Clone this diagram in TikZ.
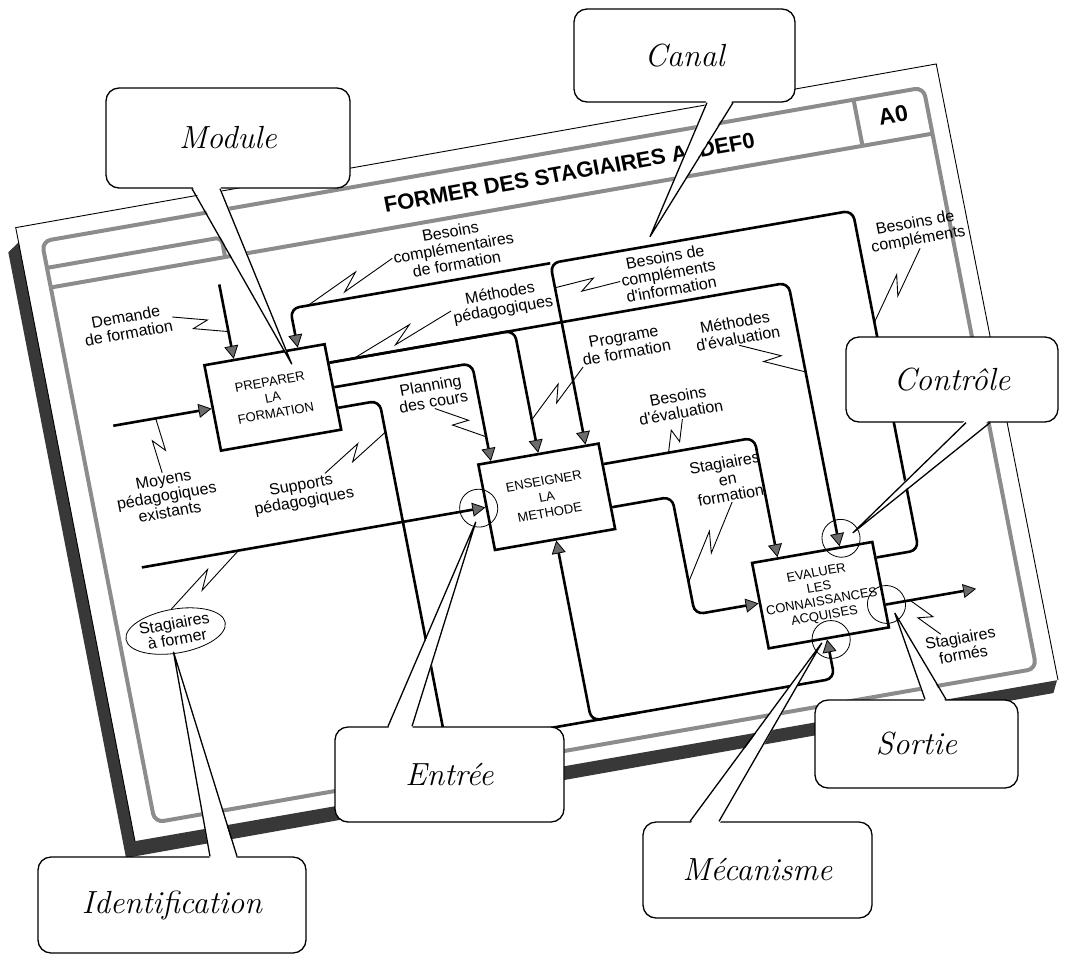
\documentclass[tikz,border=0pt]{standalone}
\usepackage{fontspec}
\newfontfamily\sheetfont{Liberation Sans}
\usetikzlibrary{arrows.meta,calc,shapes.geometric}
\newcommand\lblfont{\sheetfont\fontsize{16}{16.5}\selectfont}
\newcommand\boxfont{\sheetfont\fontsize{13}{16}\selectfont}

\begin{document}
\begin{tikzpicture}[x=1pt,y=-1pt,
  frame/.style={draw=black!45,line width=4pt},
  idbox/.style={draw,line width=2.6pt,fill=white,minimum width=122pt,minimum height=87pt,
    inner sep=0pt,align=center,font=\boxfont},
  flow/.style={line width=2.6pt,rounded corners=9pt,
    -{Triangle[length=13pt,width=14pt,fill=black!58,line width=0.8pt]}},
  lbl/.style={align=center,inner sep=1pt,font=\lblfont},
  squig/.style={line width=0.9pt,to path={
    -- ($(\tikztostart)!.6!(\tikztotarget)!6pt!90:(\tikztotarget)$)
    -- ($(\tikztostart)!.4!(\tikztotarget)!6pt!-90:(\tikztotarget)$)
    -- (\tikztotarget)}},
  ring/.style={circle,draw,line width=0.8pt,minimum size=38pt,inner sep=0pt},
  callout/.style={draw,line width=1.3pt,fill=white,rounded corners=13pt,inner sep=0pt,
    font=\itshape\fontsize{32}{32}\selectfont},
  tail/.style={line width=1.3pt}]

\useasboundingbox (0,0) rectangle (1068,954);

% ---------- the IDEF0 sheet, drawn in its own tilted frame ----------
\begin{scope}[cm={0.9851,0.1719,-0.1908,0.9816,(0,0)},transform shape]
  % paper edge and its shadow
  \fill[black!78] (-40,250) -- (-28,242) -- (-28,852) -- (908,852) -- (902,864) -- (-40,867) -- cycle;
  \draw[line width=0.9pt] (-28,852) -- (-28,227) -- (907,224) -- (909,852);
  % form frame and header
  \draw[frame,rounded corners=9pt] (-5,245) rectangle (890,837);
  \draw[frame] (-5,292) -- (890,292);
  \draw[frame,rounded corners=6pt] (-5,272) -- (172,272) -- (172,292);
  \draw[frame] (819,245) -- (819,292);
  \node[font=\sheetfont\bfseries\fontsize{22}{22}\selectfont] (title) at (526,268)
    {FORMER DES STAGIAIRES A IDEF0};
  \node[font=\sheetfont\bfseries\fontsize{23}{23}\selectfont] (a0) at (855,267) {A0};

  % activity boxes
  \node[idbox] (b1) at (192,438.5) {PREPARER\\LA\\FORMATION};
  \node[idbox] (b2) at (442,583.5) {ENSEIGNER\\LA\\METHODE};
  \node[idbox,font=\sheetfont\fontsize{13}{14.5}\selectfont] (b3) at (692,727.5)
    {EVALUER\\LES\\CONNAISSANCES\\ACQUISES};

  % routing points
  \coordinate (demS) at (161,318);
  \coordinate (moyS) at (30,439);
  \coordinate (sfS)  at (31,583.5);
  \coordinate (fbR)  at (797,700);
  \coordinate (fbT)  at (797,354);
  \coordinate (fbJ)  at (490,354);
  \coordinate (fbL)  at (226,354);
  \coordinate (d1a)  at (442,414);
  \coordinate (d1b)  at (720,414);
  \coordinate (d2)   at (394,439);
  \coordinate (d3a)  at (296,460);
  \coordinate (d3b)  at (296,812);
  \coordinate (d3c)  at (443,812);
  \coordinate (d3e)  at (490,812);
  \coordinate (d3d)  at (690,812);
  \coordinate (f1)   at (657,561);
  \coordinate (f2a)  at (565,605);
  \coordinate (f2b)  at (565,725);
  \coordinate (gE)   at (846,748);

  % arrows
  \draw[flow] (demS) -- (b1.north -| demS);
  \draw[flow] (moyS) -- (b1.west |- moyS);
  \draw[flow] (sfS) -- (b2.west |- sfS);
  \draw[flow] (b3.east |- fbR) -- (fbR) -- (fbT) -- (fbJ) -- (b2.north -| fbJ);
  \draw[flow] (fbJ) -- (fbL) -- (b1.north -| fbL);
  \draw[flow] (b1.east |- d1a) -- (d1b) -- (b3.north -| d1b);
  \draw[flow] (b1.east |- d1a) -- (d1a) -- (b2.north -| d1a);
  \draw[flow] (b1.east |- d2) -- (d2) -- (b2.north -| d2);
  \draw[flow] (b1.east |- d3a) -- (d3a) -- (d3b) -- (d3d) -- (b3.south -| d3d);
  \draw[flow] (d3e) -- (d3c) -- (b2.south -| d3c);
  \draw[flow] (b2.east |- f1) -- (f1) -- (b3.north -| f1);
  \draw[flow] (b2.east |- f2a) -- (f2a) -- (f2b) -- (b3.west |- f2b);
  \draw[flow] (b3.east |- gE) -- (gE);

  % arrow labels
  \node[lbl] (lDem) at (63,342)  {Demande\\de formation};
  \node[lbl] (lMoy) at (69,517)  {Moyens\\pédagogiques\\existants};
  \node[ellipse,draw,line width=0.8pt,minimum width=100pt,minimum height=44pt,
        inner sep=0pt,align=center,font=\sheetfont\fontsize{16}{15}\selectfont]
        (sAF) at (52,652) {Stagiaires\\à former};
  \node[lbl] (lBcf) at (398,322) {Besoins\\complémentaires\\de formation};
  \node[lbl] (lMp)  at (435,384) {Méthodes\\pédagogiques};
  \node[lbl] (lBci) at (604,384) {Besoins de\\compléments\\d'information};
  \node[lbl] (lPf)  at (548,447) {Programe\\de formation};
  \node[lbl] (lPc)  at (349,462) {Planning\\des cours};
  \node[lbl] (lSp)  at (203,539) {Supports\\pédagogiques};
  \node[lbl] (lMe)  at (660,452) {Méthodes\\d'évaluation};
  \node[lbl] (lBe)  at (590,515) {Besoins\\d'évaluation};
  \node[lbl] (lSef) at (623,597) {Stagiaires\\en\\formation};
  \node[lbl] (lBc)  at (856,386) {Besoins de\\compléments};
  \node[lbl] (lSfo) at (821,802) {Stagiaires\\formés};

  % squiggle targets on the arrows
  \coordinate (qDem) at (161,366);
  \coordinate (qMoy) at (73,439);
  \coordinate (qSaf) at (129,583.5);
  \coordinate (qBcf) at (244,354);
  \coordinate (qMp)  at (279,414);
  \coordinate (qBci) at (490,379);
  \coordinate (qPf)  at (442,505);
  \coordinate (qPc)  at (394,514);
  \coordinate (qSp)  at (296,492);
  \coordinate (qMe)  at (720,505);
  \coordinate (qBe)  at (570,561);
  \coordinate (qSef) at (565,692);
  \coordinate (qBc)  at (797,468);
  \coordinate (qSfo) at (779,748);

  \draw[squig] (lDem.east) to (qDem);
  \draw[squig] (lMoy.north) to (qMoy);
  \draw[squig] (sAF.north) to (qSaf);
  \draw[squig] (lBcf.west) to (qBcf);
  \draw[squig] (lMp.west) to (qMp);
  \draw[squig] (lBci.west) to (qBci);
  \draw[squig] (lPf.south west) to (qPf);
  \draw[squig] (lPc.south) to (qPc);
  \draw[squig] ($(lSp.north)!0.5!(lSp.north east)$) to (qSp);
  \draw[squig] (lMe.south) to (qMe);
  \draw[squig] (lBe.south) to (qBe);
  \draw[squig] (lSef.south) to (qSef);
  \draw[squig] (lBc.south) to (qBc);
  \draw[squig] ($(lSfo.north)!0.5!(lSfo.north west)$) to (qSfo);

  % highlighted arrow ends
  \node[ring] (cIn)  at (373,583) {};
  \node[ring] (cCtl) at (723,675) {};
  \node[ring] (cMec) at (694,773) {};
  \node[ring] (cOut) at (755,748) {};

  % where the callout tails point
  \coordinate (tMod) at (217,409);
  \coordinate (tCan) at (593,345);
  \coordinate (tCtl) at (735.6,671.7);
  \coordinate (tEnt) at (367.6,596);
  \coordinate (tIde) at (45.9,672);
  \coordinate (tSor) at (761.5,757.8);
  \coordinate (tMec) at (684.2,774.7);
\end{scope}

% ---------- callouts ----------
\node[callout,minimum width=244pt,minimum height=100pt] (kMod) at (228,138) {Module};
\fill[white] ($(kMod.south)+(-36,-3)$) -- (tMod) -- ($(kMod.south)+(-8,-3)$) -- cycle;
\draw[tail] ($(kMod.south)+(-36,0)$) -- (tMod) -- ($(kMod.south)+(-8,0)$);

\node[callout,minimum width=221pt,minimum height=93pt] (kCan) at (684.5,55.5) {Canal};
\fill[white] ($(kCan.south)+(22.5,-3)$) -- (tCan) -- ($(kCan.south)+(48.5,-3)$) -- cycle;
\draw[tail] ($(kCan.south)+(22.5,0)$) -- (tCan) -- ($(kCan.south)+(48.5,0)$);

\node[callout,minimum width=212pt,minimum height=85pt] (kCtl) at (952,379.5) {Contrôle};
\fill[white] ($(kCtl.south)+(14,-3)$) -- (tCtl) -- ($(kCtl.south)+(38,-3)$) -- cycle;
\draw[tail] ($(kCtl.south)+(14,0)$) -- (tCtl) -- ($(kCtl.south)+(38,0)$);

\node[callout,minimum width=229pt,minimum height=95pt] (kEnt) at (449.5,774.5) {Entrée};
\fill[white] ($(kEnt.north)+(-61.5,3)$) -- (tEnt) -- ($(kEnt.north)+(-37.5,3)$) -- cycle;
\draw[tail] ($(kEnt.north)+(-61.5,0)$) -- (tEnt) -- ($(kEnt.north)+(-37.5,0)$);

\node[callout,minimum width=268pt,minimum height=96pt] (kIde) at (172,905) {Identification};
\fill[white] ($(kIde.north)+(38,3)$) -- (tIde) -- ($(kIde.north)+(65,3)$) -- cycle;
\draw[tail] ($(kIde.north)+(38,0)$) -- (tIde) -- ($(kIde.north)+(65,0)$);

\node[callout,minimum width=203pt,minimum height=88pt] (kSor) at (916.5,744) {Sortie};
\fill[white] ($(kSor.north)+(8.5,3)$) -- (tSor) -- ($(kSor.north)+(29.5,3)$) -- cycle;
\draw[tail] ($(kSor.north)+(8.5,0)$) -- (tSor) -- ($(kSor.north)+(29.5,0)$);

\node[callout,minimum width=229pt,minimum height=96pt] (kMec) at (757.5,870) {Mécanisme};
\fill[white] ($(kMec.north)+(-67.5,3)$) -- (tMec) -- ($(kMec.north)+(-38.5,3)$) -- cycle;
\draw[tail] ($(kMec.north)+(-67.5,0)$) -- (tMec) -- ($(kMec.north)+(-38.5,0)$);
\end{tikzpicture}
\end{document}
